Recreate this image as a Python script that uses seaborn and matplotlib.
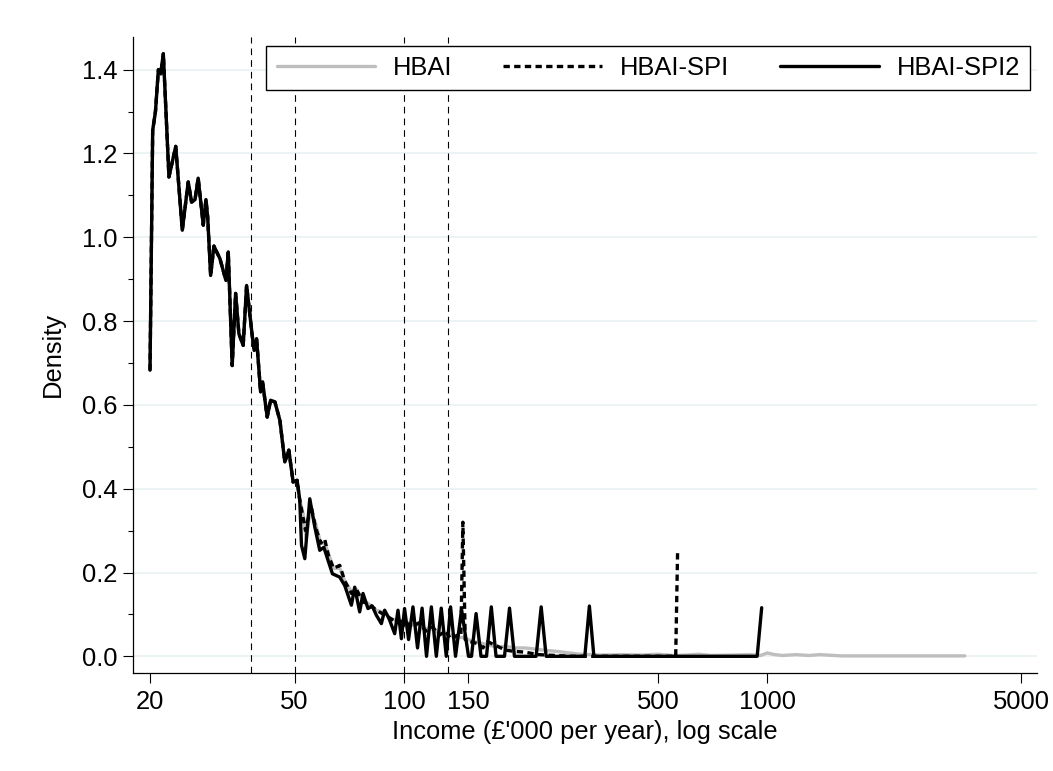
import matplotlib
matplotlib.use("Agg")
import matplotlib.pyplot as plt
import matplotlib.ticker as mticker
import seaborn as sns
import pandas as pd

# ---------------- data (income in £'000 per year, density) ----------------
main_income = [20.0, 20.34, 20.7, 21.09, 21.4, 21.76, 22.55, 23.54, 24.54, 25.48,
               26.03, 26.6, 27.14, 28.03, 28.51, 28.82, 29.37, 29.99, 31.15, 32.36,
               32.84, 33.67, 34.41, 35.13, 36.10, 36.89, 38.22, 38.71, 39.30, 40.31,
               40.82, 42.03, 42.95, 44.14, 45.56, 47.00, 48.21, 49.54, 50.81]
main_density = [0.683, 1.255, 1.30, 1.40, 1.39, 1.438, 1.144, 1.217, 1.017, 1.132,
                1.084, 1.09, 1.141, 1.029, 1.09, 1.049, 0.909, 0.979, 0.949, 0.897,
                0.965, 0.694, 0.866, 0.770, 0.742, 0.885, 0.766, 0.730, 0.758, 0.631,
                0.655, 0.571, 0.611, 0.607, 0.563, 0.464, 0.492, 0.416, 0.42]

spi2_income_tail = [51.68, 52.24, 53.35, 55.06, 56.83, 58.65, 60.2, 61.82, 63.56, 66.57,
                    68.71, 71.68, 73.20, 75.55, 77.15, 79.63, 81.8, 83.98, 86.68, 88.51,
                    91.0, 94.32, 96.30, 98.41, 100.4, 103.0, 105.9, 109.0, 112.2, 115.4,
                    119.0, 122.8, 126.7, 130.8, 134.4, 138.7, 144.1, 150.6, 153.5, 158.0,
                    163.0, 168.8, 174.0, 179.3, 189.2, 195.3, 201.5, 231.2, 238.7, 246.3,
                    314.8, 324.0, 333.4, 938.6, 965.8]
spi2_density_tail = [0.372, 0.265, 0.233, 0.376, 0.309, 0.253, 0.26, 0.229, 0.197, 0.189,
                     0.169, 0.122, 0.165, 0.106, 0.150, 0.114, 0.12, 0.098, 0.078, 0.110,
                     0.09, 0.054, 0.11, 0.042, 0.114, 0.04, 0.118, 0.02, 0.115, 0.0,
                     0.118, 0.0, 0.115, 0.0, 0.118, 0.0, 0.112, 0.0, 0.0, 0.102,
                     0.0, 0.0, 0.118, 0.0, 0.0, 0.115, 0.0, 0.0, 0.118, 0.0,
                     0.0, 0.12, 0.0, 0.0, 0.116]

spi_income_tail = [51.68, 52.8, 53.6, 55.5, 57.0, 59.0, 60.5, 62.0, 64.0, 66.6,
                   68.7, 71.7, 74.0, 77.0, 80.0, 84.0, 88.0, 92.0, 96.0, 100.0,
                   105.0, 110.0, 115.0, 120.0, 125.0, 130.0, 135.0, 140.0, 143.5, 145.3,
                   147.5, 152.0, 160.0, 165.0, 170.0, 180.0, 190.0, 200.0, 215.0, 235.0,
                   260.0, 290.0, 560.0, 566.7]
spi_density_tail = [0.372, 0.33, 0.30, 0.36, 0.31, 0.27, 0.28, 0.24, 0.21, 0.217,
                    0.18, 0.15, 0.16, 0.13, 0.125, 0.11, 0.10, 0.09, 0.08, 0.085,
                    0.07, 0.08, 0.06, 0.07, 0.05, 0.06, 0.04, 0.05, 0.05, 0.32,
                    0.04, 0.035, 0.03, 0.02, 0.035, 0.025, 0.015, 0.012, 0.01, 0.004,
                    0.002, 0.0, 0.0, 0.247]

hbai_income_tail = [51.68, 52.8, 53.8, 55.3, 57.0, 59.0, 60.5, 62.0, 64.0, 66.6,
                    68.7, 71.7, 74.0, 77.0, 80.0, 84.0, 88.0, 92.0, 96.0, 100.0,
                    105.0, 110.0, 115.0, 120.0, 125.0, 130.0, 135.0, 140.0, 145.0, 150.0,
                    158.0, 170.0, 179.5, 190.0, 201.5, 215.0, 225.8, 246.3, 262.0, 279.7,
                    304.0, 350.0, 400.0, 450.0, 500.0, 550.0, 600.0, 650.0, 700.0, 800.0,
                    900.0, 960.0, 1000.0, 1050.0, 1100.0, 1200.0, 1300.0, 1400.0, 1600.0, 2000.0,
                    3000.0, 3500.0]
hbai_density_tail = [0.372, 0.34, 0.28, 0.35, 0.32, 0.27, 0.27, 0.245, 0.21, 0.21,
                     0.18, 0.155, 0.16, 0.135, 0.125, 0.11, 0.105, 0.09, 0.085, 0.085,
                     0.075, 0.075, 0.065, 0.065, 0.055, 0.055, 0.05, 0.045, 0.045, 0.04,
                     0.034, 0.028, 0.022, 0.024, 0.02, 0.02, 0.018, 0.014, 0.012, 0.009,
                     0.005, 0.003, 0.004, 0.003, 0.005, 0.002, 0.003, 0.005, 0.002, 0.003,
                     0.004, 0.002, 0.008, 0.004, 0.002, 0.004, 0.002, 0.004, 0.001, 0.001,
                     0.001, 0.001]

series_names = ["HBAI", "HBAI-SPI", "HBAI-SPI2"]
threshold_incomes = [38.0, 50.0, 100.0, 132.0]
x_ticks = [20, 50, 100, 150, 500, 1000, 5000]
y_ticks = [0.0, 0.2, 0.4, 0.6, 0.8, 1.0, 1.2, 1.4]

# ---------------- style ----------------
sns.set_theme(style="white")
plt.rcParams["font.family"] = ["Liberation Sans", "DejaVu Sans"]
FS = 18.4

def make_df(inc_tail, den_tail):
    return pd.DataFrame({"income": main_income + inc_tail,
                         "density": main_density + den_tail})

df_hbai = make_df(hbai_income_tail, hbai_density_tail)
df_spi = make_df(spi_income_tail, spi_density_tail)
df_spi2 = make_df(spi2_income_tail, spi2_density_tail)

fig = plt.figure(figsize=(10.53, 7.71), dpi=100)
ax = fig.add_axes([0.1266, 0.1275, 0.8579, 0.8245])

for xv in threshold_incomes:
    ax.axvline(xv, color="black", lw=0.8, dashes=(6, 4.5), zorder=1.5)

LW = 2.4
sns.lineplot(data=df_hbai, x="income", y="density", ax=ax, color="#BEBEBE",
             lw=LW, sort=False, estimator=None, label=series_names[0], zorder=3)
sns.lineplot(data=df_spi, x="income", y="density", ax=ax, color="black",
             lw=LW, sort=False, estimator=None, label=series_names[1], zorder=4,
             dashes=False)
ax.get_lines()[-1].set_dashes((1.9, 1.3))
sns.lineplot(data=df_spi2, x="income", y="density", ax=ax, color="black",
             lw=LW, sort=False, estimator=None, label=series_names[2], zorder=5)

ax.set_xscale("log")
ax.set_xlim(17.99, 5520)
ax.set_ylim(-0.0391, 1.478)

ax.xaxis.set_major_locator(mticker.FixedLocator(x_ticks))
ax.xaxis.set_major_formatter(mticker.FixedFormatter([str(t) for t in x_ticks]))
ax.xaxis.set_minor_locator(mticker.NullLocator())
ax.yaxis.set_major_locator(mticker.FixedLocator(y_ticks))
ax.yaxis.set_major_formatter(mticker.FormatStrFormatter("%.1f"))
ax.yaxis.set_minor_locator(mticker.MultipleLocator(0.1))

ax.grid(False)
ax.yaxis.grid(True, which="major", color="#EAF2F3", lw=1.3, zorder=0)
ax.set_axisbelow(True)

for s in ["top", "right"]:
    ax.spines[s].set_visible(False)
for s in ["left", "bottom"]:
    ax.spines[s].set_color("black")
    ax.spines[s].set_linewidth(0.9)

ax.tick_params(axis="both", which="major", direction="out", length=7.5, width=0.8,
               color="black", labelsize=FS, labelcolor="black", bottom=True, left=True)
ax.tick_params(axis="x", which="major", pad=5)
ax.tick_params(axis="y", which="major", pad=4)
ax.tick_params(axis="y", which="minor", direction="out", length=3.8, width=0.8,
               color="black", left=True)

ax.set_xlabel("Income (£'000 per year), log scale", fontsize=FS, labelpad=4,
              color="black")
ax.set_ylabel("Density", fontsize=FS, labelpad=12, color="black")

handles = ax.get_lines()[-3:]
leg = ax.legend(handles, series_names, loc="upper right", bbox_to_anchor=(0.9926, 0.9863),
                borderaxespad=0, ncol=3, fontsize=FS, frameon=True, fancybox=False,
                framealpha=1, edgecolor="black", handlelength=3.85, handletextpad=0.7,
                columnspacing=2.0, borderpad=0.4)
leg.get_frame().set_linewidth(1.0)
for t in leg.get_texts():
    t.set_color("black")

fig.savefig("out.png", dpi=100)
